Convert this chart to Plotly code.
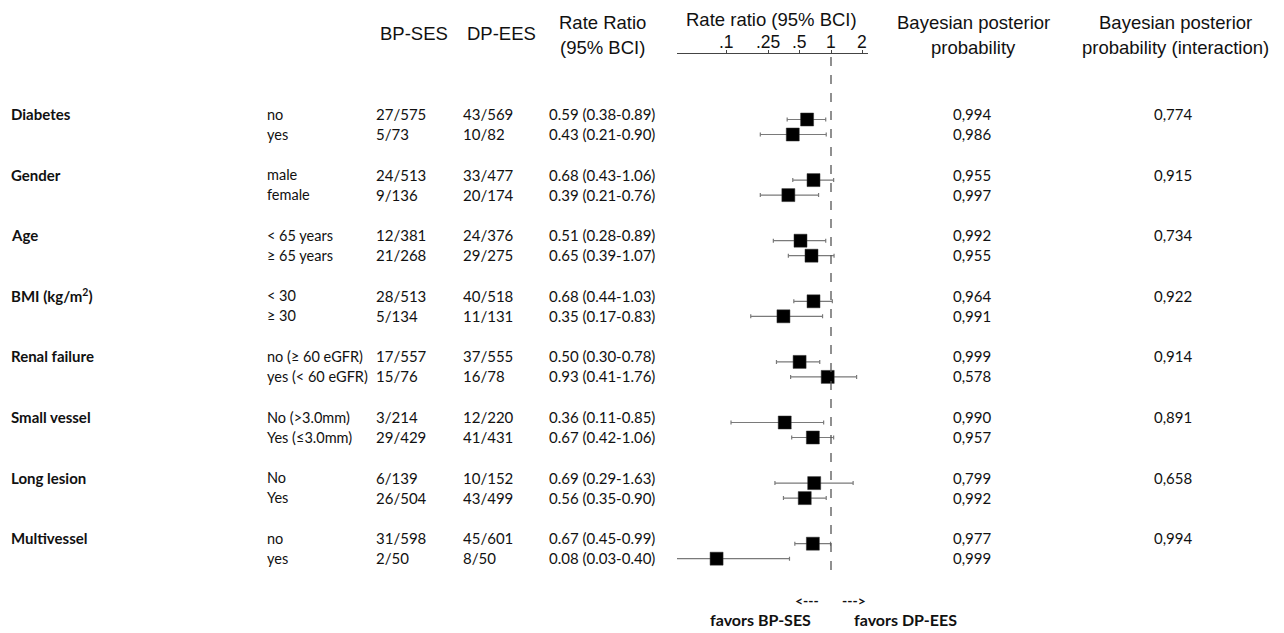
import math
import plotly.graph_objects as go

PAGE_W, PAGE_H = 1284, 633
OFF = 8                      # default body margin of the html page
W, H = PAGE_W - OFF, PAGE_H - OFF

# ---------------- data ----------------
groups = ["Diabetes", "Gender", "Age", "BMI (kg/m<sup>2</sup>)", "Renal failure",
          "Small vessel", "Long lesion", "Multivessel"]
subgroups = [["no", "yes"], ["male", "female"], ["< 65 years", "≥ 65 years"],
             ["< 30", "≥ 30"], ["no (≥ 60 eGFR)", "yes (< 60 eGFR)"],
             ["No (>3.0mm)", "Yes (≤3.0mm)"], ["No", "Yes"], ["no", "yes"]]
bp_ses = ["27/575", "5/73", "24/513", "9/136", "12/381", "21/268", "28/513", "5/134",
          "17/557", "15/76", "3/214", "29/429", "6/139", "26/504", "31/598", "2/50"]
dp_ees = ["43/569", "10/82", "33/477", "20/174", "24/376", "29/275", "40/518", "11/131",
          "37/555", "16/78", "12/220", "41/431", "10/152", "43/499", "45/601", "8/50"]
rate_ratio = [0.59, 0.43, 0.68, 0.39, 0.51, 0.65, 0.68, 0.35,
              0.50, 0.93, 0.36, 0.67, 0.69, 0.56, 0.67, 0.08]
ci_low = [0.38, 0.21, 0.43, 0.21, 0.28, 0.39, 0.44, 0.17,
          0.30, 0.41, 0.11, 0.42, 0.29, 0.35, 0.45, 0.03]
ci_high = [0.89, 0.90, 1.06, 0.76, 0.89, 1.07, 1.03, 0.83,
           0.78, 1.76, 0.85, 1.06, 1.63, 0.90, 0.99, 0.40]
posterior = ["0,994", "0,986", "0,955", "0,997", "0,992", "0,955", "0,964", "0,991",
             "0,999", "0,578", "0,990", "0,957", "0,799", "0,992", "0,977", "0,999"]
interaction = ["0,774", "0,915", "0,734", "0,922", "0,914", "0,891", "0,658", "0,994"]
tick_vals = [0.1, 0.25, 0.5, 1, 2]
tick_text = [".1", ".25", ".5", "1", "2"]

# ---------------- layout helpers ----------------
BODY_FONT = "Lato"
HEAD_FONT = "Liberation Sans, Arial"
BODY_SIZE = 15
SUB_SIZE = 14.5
HEAD_SIZE = 18.5
GROUP_STEP = 60.6
TEXT_Y0, TEXT_SUB = 114, 20
MARK_Y0, MARK_SUB = 119.5, 15


def px(x):
    """page pixel x -> paper fraction"""
    return (x - OFF) / W


text_rows, mark_rows = [], []
for g in range(len(groups)):
    for s in range(2):
        text_rows.append(TEXT_Y0 + g * GROUP_STEP + s * TEXT_SUB)
        mark_rows.append(MARK_Y0 + g * GROUP_STEP + s * MARK_SUB)

fig = go.Figure()

fig.add_trace(go.Scatter(
    x=rate_ratio, y=mark_rows, mode="markers",
    marker=dict(symbol="square", size=13, color="black",
                line=dict(color="#333", width=0.5)),
    error_x=dict(type="data", symmetric=False,
                 array=[h - r for h, r in zip(ci_high, rate_ratio)],
                 arrayminus=[r - l for r, l in zip(rate_ratio, ci_low)],
                 color="#7a7a7a", thickness=1.2, width=2),
    showlegend=False, hoverinfo="skip", cliponaxis=False,
))

ann = []


def add_text(x, y, text, size=BODY_SIZE, bold=False, anchor="left", font=BODY_FONT, color="#111"):
    ann.append(dict(x=px(x), y=y, xref="paper", yref="y", text=f"<b>{text}</b>" if bold else text,
                    showarrow=False, xanchor=anchor, yanchor="middle", borderpad=0,
                    font=dict(family=font, size=size, color=color)))


# headers
add_text(414, 33, "BP-SES", HEAD_SIZE, anchor="center", font=HEAD_FONT)
add_text(501, 33, "DP-EES", HEAD_SIZE, anchor="center", font=HEAD_FONT)
add_text(602, 22, "Rate Ratio", HEAD_SIZE, anchor="center", font=HEAD_FONT)
add_text(602, 47, "(95% BCI)", HEAD_SIZE, anchor="center", font=HEAD_FONT)
add_text(771, 19.5, "Rate ratio (95% BCI)", 18.5, anchor="center", font=HEAD_FONT)
add_text(973, 22, "Bayesian posterior", HEAD_SIZE, anchor="center", font=HEAD_FONT)
add_text(973, 47, "probability", HEAD_SIZE, anchor="center", font=HEAD_FONT)
add_text(1175, 22, "Bayesian posterior", HEAD_SIZE, anchor="center", font=HEAD_FONT)
add_text(1175, 47, "probability (interaction)", HEAD_SIZE, anchor="center", font=HEAD_FONT)

# forest axis tick labels (annotation x on a log axis is given in log10 units)
for v, t in zip(tick_vals, tick_text):
    ann.append(dict(x=math.log10(v), y=42, xref="x", yref="y", text=t, showarrow=False,
                    xanchor="center", yanchor="middle", borderpad=0,
                    font=dict(family=HEAD_FONT, size=17.5, color="#111")))

# body
for g, name in enumerate(groups):
    add_text(10, text_rows[2 * g], name, BODY_SIZE, bold=True)
    add_text(1153, text_rows[2 * g], interaction[g])
    for s in range(2):
        i = 2 * g + s
        y = text_rows[i]
        add_text(266, y, subgroups[g][s], SUB_SIZE)
        add_text(375, y, bp_ses[i])
        add_text(462, y, dp_ees[i])
        add_text(548, y, f"{rate_ratio[i]:.2f} ({ci_low[i]:.2f}-{ci_high[i]:.2f})")
        add_text(952, y, posterior[i])

# bottom labels
add_text(807, 600, "&lt;---", 14, bold=True, anchor="center")
add_text(854, 600, "---&gt;", 14, bold=True, anchor="center")
add_text(760, 619, "favors BP-SES", 16, bold=True, anchor="center")
add_text(905, 619, "favors DP-EES", 16, bold=True, anchor="center")

fig.add_shape(type="line", xref="x", yref="y", x0=1, x1=1, y0=57, y1=576,
              line=dict(color="#555", width=1.3, dash="dash"))

AX_L, AX_R, X_ONE, PPD = 677, 868, 831, 104.3
fig.update_layout(
    width=W, height=H, margin=dict(l=0, r=0, t=0, b=0),
    paper_bgcolor="white", plot_bgcolor="rgba(0,0,0,0)",
    annotations=ann,
    xaxis=dict(type="log", domain=[px(AX_L), px(AX_R)],
               range=[(AX_L - X_ONE) / PPD, (AX_R - X_ONE) / PPD],
               side="top", anchor="free", position=1 - (53 - OFF) / H,
               showline=True, linecolor="#444", linewidth=1,
               ticks="outside", ticklen=3, tickcolor="#444",
               tickvals=tick_vals, showticklabels=False,
               showgrid=False, zeroline=False),
    yaxis=dict(range=[PAGE_H, OFF], domain=[0, 1], visible=False,
               showgrid=False, zeroline=False),
)

fig.write_html("out.html")
